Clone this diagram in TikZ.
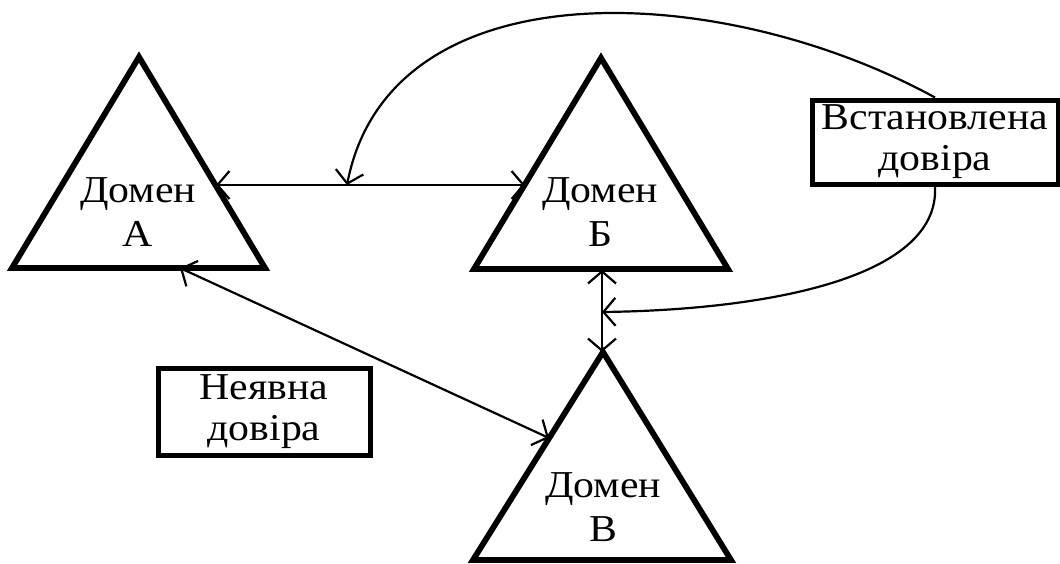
\documentclass[tikz,border=0pt]{standalone}
\usepackage{fontspec}
\setmainfont{Liberation Serif}[FakeStretch=1.1]
\usetikzlibrary{arrows.meta}
\begin{document}
\begin{tikzpicture}[x=1pt,y=-1pt,
  >={Straight Barb[length=12pt,width=28pt]},
  tri/.style={line width=5.8pt, line join=miter},
  box/.style={draw, line width=5pt, align=center, inner sep=0pt,
    font=\fontsize{38}{41}\selectfont},
  lbl/.style={align=center, inner sep=0pt, anchor=north,
    font=\fontsize{38}{44}\selectfont},
  conn/.style={line width=2.2pt}
]
\useasboundingbox (0,0) rectangle (1060,563);
\fill[white] (0,0) rectangle (1060,563);

% partially visible caption
\node[anchor=base west, inner sep=0pt, font=\fontsize{38}{44}\selectfont] (cap) at (-3,-10) {В.};

% triangles
\draw[tri] (139,57) -- (265,268) -- (12,268) -- cycle;
\draw[tri] (601,58) -- (728,269) -- (474,269) -- cycle;
\draw[tri] (603,352) -- (731,560) -- (473,560) -- cycle;

\node[lbl] (labA) at (138,177) {Домен\\А};
\node[lbl] (labB) at (600,177) {Домен\\Б};
\node[lbl] (labC) at (603,472) {Домен\\В};

% boxes
\node[box, minimum width=246pt, minimum height=84pt] (est) at (935,142) {Встановлена\\довіра};
\node[box, minimum width=212pt, minimum height=87pt] (imp) at (264,411.5) {Неявна\\довіра};

% connector end points on triangle edges
\coordinate (aR) at (216,185);
\coordinate (bL) at (525,185);
\coordinate (aB) at (180,268);
\coordinate (cL) at (549,438);
\coordinate (bB) at (602,270);
\coordinate (cT) at (602,352);
\coordinate (m1) at (347,185);
\coordinate (m2) at (602,312);

\draw[conn, <->] (aR) -- (bL);
\draw[conn, <->] (aB) -- (cL);
\draw[conn, <->] (bB) -- (cT);

\draw[conn, ->] (est.north) .. controls (720,-20) and (390,-35) .. (m1);
\draw[conn, ->] (est.south) .. controls (940,280) and (760,310) .. (m2);
\end{tikzpicture}
\end{document}
